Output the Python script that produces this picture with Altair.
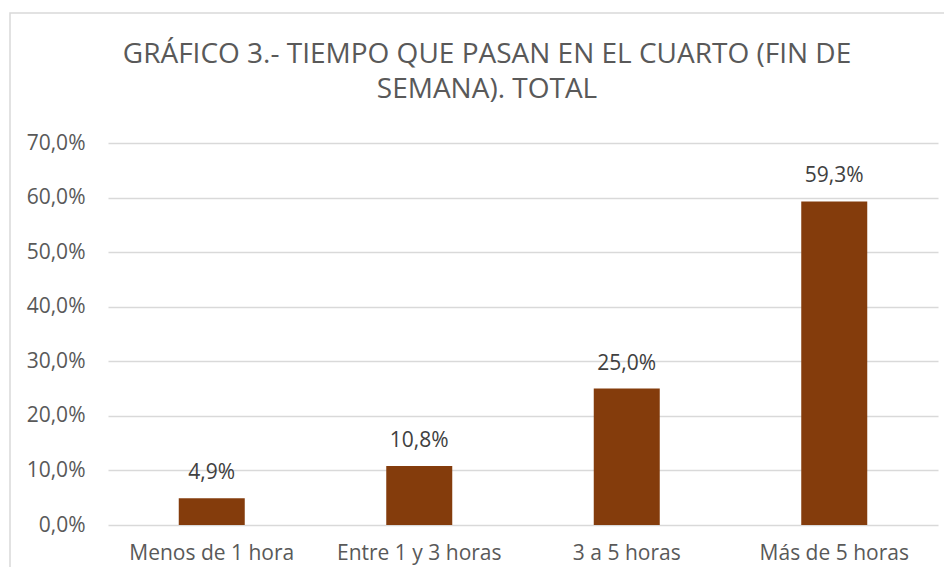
import altair as alt
import pandas as pd

categories = ["Menos de 1 hora", "Entre 1 y 3 horas", "3 a 5 horas", "Más de 5 horas"]
values = [4.9, 10.8, 25.0, 59.3]
labels = ["4,9%", "10,8%", "25,0%", "59,3%"]

df = pd.DataFrame({"cat": categories, "val": values, "lab": labels})

W, H = 830, 382
FONT = "Open Sans"

base = alt.Chart(df)

border = base.mark_rect(fill=None, stroke="#d9d9d9", strokeWidth=1.5, clip=False).encode(
    x=alt.value(-98), x2=alt.value(W + 40), y=alt.value(-130), y2=alt.value(H + 100)
).transform_filter(alt.datum.cat == categories[0])

bars = base.mark_bar(color="#843C0C", size=66).encode(
    x=alt.X("cat:N", sort=categories, title=None,
            scale=alt.Scale(paddingInner=0.68, paddingOuter=0.34),
            axis=alt.Axis(labelAngle=0, domain=False, ticks=False, grid=False,
                          labelFont=FONT, labelFontSize=21, labelColor="#595959",
                          labelPadding=17)),
    y=alt.Y("val:Q", title=None,
            scale=alt.Scale(domain=[0, 70]),
            axis=alt.Axis(values=[0, 10, 20, 30, 40, 50, 60, 70],
                          labelExpr="replace(format(datum.value, '.1f'), '.', ',') + '%'",
                          domain=False, ticks=False, gridColor="#d9d9d9", gridWidth=1.5,
                          labelFont=FONT, labelFontSize=21, labelColor="#595959",
                          labelPadding=23)),
)

text = base.mark_text(font=FONT, fontSize=21, color="#404040", baseline="alphabetic", dy=-19).encode(
    x=alt.X("cat:N", sort=categories),
    y="val:Q",
    text="lab:N",
)

chart = alt.layer(border, bars, text).properties(
    width=W, height=H,
    title=alt.TitleParams(
        text=["GRÁFICO 3.- TIEMPO QUE PASAN EN EL CUARTO (FIN DE", "SEMANA). TOTAL"],
        font=FONT, fontSize=28, fontWeight="normal", color="#595959",
        anchor="middle", frame="group", dx=-36, dy=120, lineHeight=35, offset=28,
    ),
    autosize="none",
    padding={"left": 100, "top": 135, "right": 6, "bottom": 42},
).configure_view(stroke=None)

chart.save("out.html", embed_options={"renderer": "svg", "actions": False})
